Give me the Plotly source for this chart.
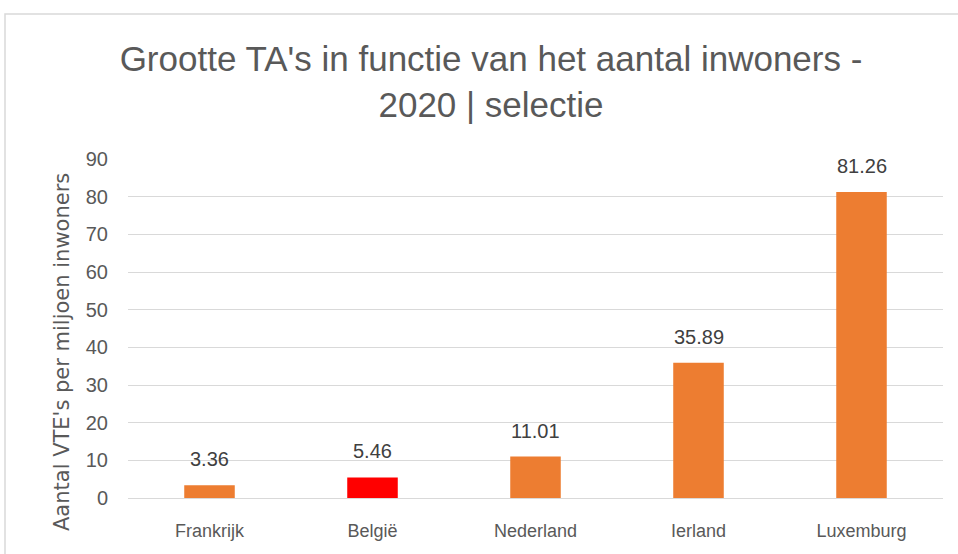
import plotly.graph_objects as go

categories = ["Frankrijk", "België", "Nederland", "Ierland", "Luxemburg"]
values = [3.36, 5.46, 11.01, 35.89, 81.26]
bar_colors = ["#ED7D31", "#FF0000", "#ED7D31", "#ED7D31", "#ED7D31"]
labels = ["3.36", "5.46", "11.01", "35.89", "81.26"]
y_ticks = [0, 10, 20, 30, 40, 50, 60, 70, 80, 90]

FONT = "Liberation Sans, Arial"
GRAY = "#595959"

fig = go.Figure()
fig.add_trace(go.Bar(x=categories, y=values, marker=dict(color=bar_colors, line=dict(width=0)),
                     hoverinfo="skip"))

for c, v, t in zip(categories, values, labels):
    fig.add_annotation(x=c, y=v, text=t, showarrow=False, yanchor="bottom", yshift=13,
                       font=dict(family=FONT, size=20, color="#404040"))

# y-axis title placed like the original (offset downward from plot centre)
fig.add_annotation(xref="paper", yref="paper", x=(62 - 128) / 815, y=(498 - 352) / 339,
                   text="Aantal VTE's per miljoen inwoners", textangle=-90, showarrow=False,
                   xanchor="center", yanchor="middle",
                   font=dict(family="DejaVu Sans", size=21, color=GRAY))

# chart border
fig.add_shape(type="rect", xref="paper", yref="paper", x0=(5 - 128) / 815, x1=1.2,
              y0=-0.5, y1=(498 - 14) / 339,
              line=dict(color="#D9D9D9", width=1.5), fillcolor="rgba(0,0,0,0)", layer="below")

fig.update_layout(
    width=958, height=554,
    margin=dict(l=128, r=15, t=159, b=56),
    paper_bgcolor="white", plot_bgcolor="white",
    bargap=0.69,
    showlegend=False,
    title=dict(text="Grootte TA's in functie van het aantal inwoners -<br>2020 | selectie",
               x=491 / 958, xanchor="center", y=1 - 71 / 554, yanchor="middle",
               font=dict(family=FONT, size=35, color=GRAY)),
    font=dict(family=FONT, color=GRAY),
    xaxis=dict(showgrid=False, showline=False, ticks="", ticklabelstandoff=20,
               tickfont=dict(family=FONT, size=18, color=GRAY)),
    yaxis=dict(range=[0, 90], tickvals=y_ticks, showgrid=True, gridcolor="#D9D9D9", gridwidth=1,
               zeroline=True, zerolinecolor="#D9D9D9", zerolinewidth=1,
               showline=False, ticks="", ticklabelstandoff=19,
               tickfont=dict(family=FONT, size=20, color=GRAY)),
)

fig.write_html("out.html", config={"displayModeBar": False},
               post_script="document.body.style.margin='0';")
